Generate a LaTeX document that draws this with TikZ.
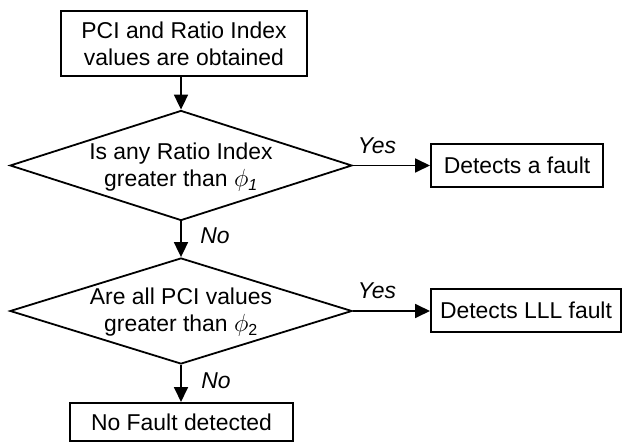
\documentclass[tikz,border=0pt]{standalone}
\usepackage{fontspec}
\setmainfont{Liberation Sans}
\usetikzlibrary{shapes.geometric,arrows.meta}
\tikzset{
  procbox/.style={draw, line width=2bp, inner sep=0pt, align=center, font=\fontsize{23}{27}\selectfont},
  decbox/.style={draw, diamond, line width=1.8bp, inner sep=0pt},
  dectext/.style={align=center, font=\fontsize{23}{27}\selectfont, inner sep=0pt},
  lbl/.style={font=\fontsize{23}{27}\selectfont\itshape, inner sep=0pt},
  flow/.style={line width=1.8bp, -{Triangle[length=15bp,width=14bp]}}
}
\begin{document}
\begin{tikzpicture}[x=1bp,y=-1bp]
\useasboundingbox (0,0) rectangle (623,442);
\node[procbox, minimum width=246bp, minimum height=65bp] (start) at (184,43.5) {PCI and Ratio Index\\values are obtained};
\node[decbox, minimum width=342bp, minimum height=110bp] (d1) at (181,165.5) {};
\node[dectext] (t1) at (181,167) {Is any Ratio Index\\greater than $\phi$\textsubscript{\itshape 1}};
\node[procbox, minimum width=172bp, minimum height=43bp] (f1) at (517,165.5) {Detects a fault};
\node[decbox, minimum width=342bp, minimum height=106bp] (d2) at (181,311) {};
\node[dectext] (t2) at (181,312) {Are all PCI values\\greater than $\phi$\textsubscript{2}};
\node[procbox, minimum width=190bp, minimum height=43bp] (f2) at (526,310.5) {Detects LLL fault};
\node[procbox, minimum width=223bp, minimum height=38bp] (nf) at (181.5,422) {No Fault detected};
\draw[flow] (start.south -| d1.north) -- (d1.north);
\draw[flow] (d1.east) -- (f1.west |- d1.east);
\draw[flow] (d1.south) -- (d2.north);
\draw[flow] (d2.east) -- (f2.west |- d2.east);
\draw[flow] (d2.south) -- (d2.south |- nf.north);
\node[lbl] (y1) at (377,146) {Yes};
\node[lbl] (y2) at (377,291) {Yes};
\node[lbl] (n1) at (215,236) {No};
\node[lbl] (n2) at (216,381) {No};
\end{tikzpicture}
\end{document}
